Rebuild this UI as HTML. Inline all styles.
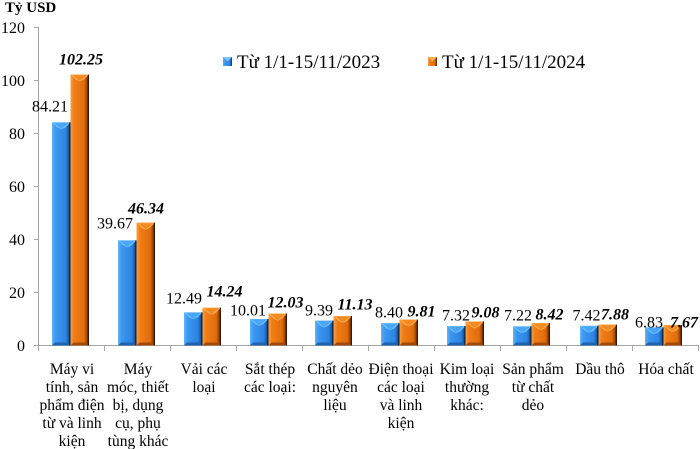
<!DOCTYPE html>
<html><head><meta charset="utf-8"><style>
html,body{margin:0;padding:0;background:#fff;}
svg{display:block;font-family:"Liberation Serif","DejaVu Serif","Times New Roman",serif;}
svg text{font-family:"Liberation Serif","DejaVu Serif","Times New Roman",serif;fill:#000;}
</style></head><body>
<svg width="700" height="449" viewBox="0 0 700 449" xmlns="http://www.w3.org/2000/svg" font-family="Liberation Serif, DejaVu Serif, serif">
<defs>
<linearGradient id="gb" x1="0" y1="0" x2="1" y2="0">
<stop offset="0" stop-color="#62b4fa"/>
<stop offset="0.18" stop-color="#3d98f0"/>
<stop offset="0.75" stop-color="#2c84e0"/>
<stop offset="0.88" stop-color="#1d5fae"/>
<stop offset="1" stop-color="#0e2c55"/>
</linearGradient>
<linearGradient id="go" x1="0" y1="0" x2="1" y2="0">
<stop offset="0" stop-color="#f9a040"/>
<stop offset="0.18" stop-color="#f07e18"/>
<stop offset="0.75" stop-color="#e06c0c"/>
<stop offset="0.88" stop-color="#9a4606"/>
<stop offset="1" stop-color="#4a2000"/>
</linearGradient>
</defs>

<!-- title -->
<text x="5" y="12" font-size="15" font-weight="bold" font-family="Liberation Serif, DejaVu Serif, serif">Tỷ USD</text>

<!-- y axis labels -->
<g font-size="16" text-anchor="end" font-family="Liberation Serif, DejaVu Serif, serif">
<text x="25" y="33">120</text>
<text x="25" y="86">100</text>
<text x="25" y="139">80</text>
<text x="25" y="192">60</text>
<text x="25" y="245">40</text>
<text x="25" y="298">20</text>
<text x="25" y="351">0</text>
</g>

<!-- axes -->
<g stroke="#a6a6a6" stroke-width="1" fill="none">
<line x1="38.5" y1="27" x2="38.5" y2="345.5"/>
<line x1="38.5" y1="345.5" x2="699" y2="345.5"/>
<line x1="34" y1="27.5" x2="38.5" y2="27.5"/>
<line x1="34" y1="80.5" x2="38.5" y2="80.5"/>
<line x1="34" y1="133.5" x2="38.5" y2="133.5"/>
<line x1="34" y1="186.5" x2="38.5" y2="186.5"/>
<line x1="34" y1="239.5" x2="38.5" y2="239.5"/>
<line x1="34" y1="292.5" x2="38.5" y2="292.5"/>
<line x1="34" y1="345.5" x2="38.5" y2="345.5"/>
<line x1="38.5" y1="345.5" x2="38.5" y2="351"/>
<line x1="104.5" y1="345.5" x2="104.5" y2="351"/>
<line x1="170.5" y1="345.5" x2="170.5" y2="351"/>
<line x1="236.5" y1="345.5" x2="236.5" y2="351"/>
<line x1="302.5" y1="345.5" x2="302.5" y2="351"/>
<line x1="368.5" y1="345.5" x2="368.5" y2="351"/>
<line x1="434.5" y1="345.5" x2="434.5" y2="351"/>
<line x1="500.5" y1="345.5" x2="500.5" y2="351"/>
<line x1="566.5" y1="345.5" x2="566.5" y2="351"/>
<line x1="632.5" y1="345.5" x2="632.5" y2="351"/>
<line x1="698.5" y1="345.5" x2="698.5" y2="351"/>
</g>

<g id="bars"></g>

<!-- value labels -->
<g font-size="16" text-anchor="middle" font-family="Liberation Serif, DejaVu Serif, serif">
<text x="50" y="111.5">84.21</text>
<text x="115" y="228.5">39.67</text>
<text x="184" y="303.5">12.49</text>
<text x="248" y="315.5">10.01</text>
<text x="319" y="315.5">9.39</text>
<text x="389" y="317.5">8.40</text>
<text x="456" y="320.5">7.32</text>
<text x="518" y="320.5">7.22</text>
<text x="586.5" y="320.5">7.42</text>
<text x="649" y="327.5">6.83</text>
</g>
<g font-size="16" text-anchor="middle" font-weight="bold" font-style="italic" font-family="Liberation Serif, DejaVu Serif, serif">
<text x="81" y="64.5">102.25</text>
<text x="146" y="213.5">46.34</text>
<text x="224.5" y="296.5">14.24</text>
<text x="285.5" y="307.5">12.03</text>
<text x="355" y="309.5">11.13</text>
<text x="421.5" y="316.5">9.81</text>
<text x="485.5" y="317.5">9.08</text>
<text x="549.5" y="319.5">8.42</text>
<text x="615" y="319.5">7.88</text>
<text x="684" y="327.5">7.67</text>
</g>

<!-- legend -->
<g font-family="Liberation Serif, DejaVu Serif, serif">
<rect x="223" y="57" width="9" height="9" fill="url(#gb)"/>
<polygon points="223,57 232,57 227.5,61.5" fill="#7cc4ff"/>
<text x="237" y="68" font-size="19">Từ 1/1-15/11/2023</text>
<rect x="428" y="57" width="9" height="9" fill="url(#go)"/>
<polygon points="428,57 437,57 432.5,61.5" fill="#ffb060"/>
<text x="442" y="68" font-size="19">Từ 1/1-15/11/2024</text>
</g>

<!-- category labels -->
<g font-size="15.5" text-anchor="middle" font-family="Liberation Serif, DejaVu Serif, serif">
<text x="72" y="374">Máy vi</text>
<text x="72" y="392">tính, sản</text>
<text x="72" y="410">phẩm điện</text>
<text x="72" y="428">từ và linh</text>
<text x="72" y="446">kiện</text>

<text x="138" y="374">Máy</text>
<text x="138" y="392">móc, thiết</text>
<text x="138" y="410">bị, dụng</text>
<text x="138" y="428">cụ, phụ</text>
<text x="138" y="446">tùng khác</text>

<text x="204" y="374">Vải các</text>
<text x="204" y="392">loại</text>

<text x="270" y="374">Sắt thép</text>
<text x="270" y="392">các loại:</text>

<text x="335" y="374">Chất dẻo</text>
<text x="335" y="392">nguyên</text>
<text x="335" y="410">liệu</text>

<text x="401" y="374">Điện thoại</text>
<text x="401" y="392">các loại</text>
<text x="401" y="410">và linh</text>
<text x="401" y="428">kiện</text>

<text x="467" y="374">Kim loại</text>
<text x="467" y="392">thường</text>
<text x="467" y="410">khác:</text>

<text x="533" y="374">Sản phẩm</text>
<text x="533" y="392">từ chất</text>
<text x="533" y="410">dẻo</text>

<text x="600" y="374">Dầu thô</text>

<text x="666" y="374">Hóa chất</text>
</g>

<script>
(function(){
var a=[84.21,39.67,12.49,10.01,9.39,8.40,7.32,7.22,7.42,6.83];
var b=[102.25,46.34,14.24,12.03,11.13,9.81,9.08,8.42,7.88,7.67];
var ticks=[39,105,171,237,302,368,434,500,567,632];
var y0=345.5,s=2.65,w=18.5;
var ns="http://www.w3.org/2000/svg";
var g=document.getElementById("bars");
function el(t,at){var e=document.createElementNS(ns,t);for(var k in at)e.setAttribute(k,at[k]);g.appendChild(e);return e;}
function bar(x,v,blue){
 var h=v*s,y=y0-h,bv=5;
 el("rect",{x:x,y:y,width:w,height:h,fill:blue?"url(#gb)":"url(#go)"});
 el("polygon",{points:x+","+y+" "+(x+w)+","+y+" "+(x+w-bv)+","+(y+bv)+" "+(x+w/2)+","+(y+bv+2)+" "+(x+bv)+","+(y+bv),fill:blue?"#6cbcff":"#ffa850"});
 el("polygon",{points:(x+2)+","+(y+0.5)+" "+(x+w-2)+","+(y+0.5)+" "+(x+w/2)+","+(y+bv+1.5),fill:blue?"#4aa6f6":"#f58a20"});
 if(h>8){
 el("polygon",{points:x+","+y0+" "+(x+w)+","+y0+" "+(x+w-3)+","+(y0-3)+" "+(x+3)+","+(y0-3),fill:blue?"#1f62b0":"#a44a08"});
 }
 el("rect",{x:x+w-1.2,y:y,width:1.2,height:h,fill:blue?"#0a2244":"#3a1800"});
}
for(var i=0;i<10;i++){
 var x=ticks[i]+13;
 bar(x,a[i],true);
 bar(x+w,b[i],false);
}
})();
</script>
</svg>
</body></html>
